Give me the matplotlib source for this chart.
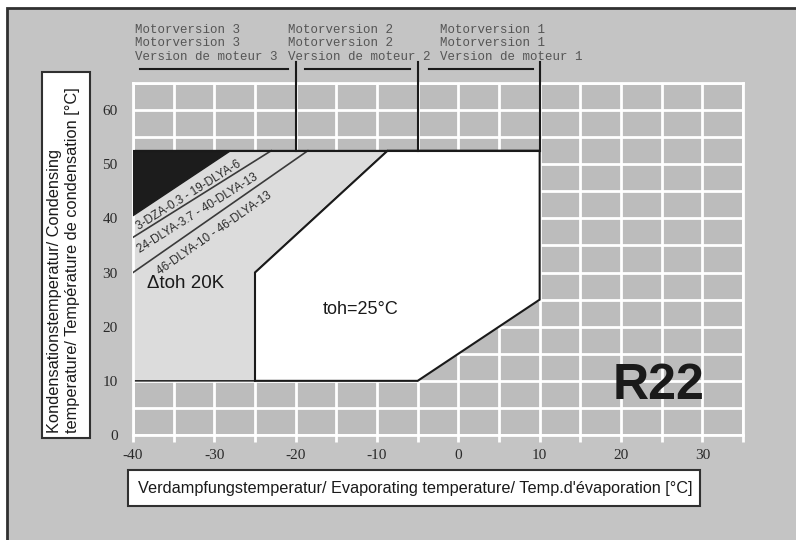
import numpy as np
import matplotlib
matplotlib.use("Agg")
import matplotlib.pyplot as plt
from matplotlib.patches import Polygon, Rectangle

plt.rcParams["axes.unicode_minus"] = False

# ------------------------------------------------------------
# Daten
# ------------------------------------------------------------
x_ticks = [-40, -30, -20, -10, 0, 10, 20, 30]
y_ticks = [0, 10, 20, 30, 40, 50, 60]

# Einsatzbereich Δtoh 20K (hellgrau)
zone_20k_x = [-40, -25, -25, -8.7, -40]
zone_20k_y = [10, 10, 30, 52.5, 52.5]

# Einsatzbereich toh=25°C (weiss)
zone_25_x = [-25, -5, 10, 10, -8.7, -25]
zone_25_y = [10, 10, 25, 52.5, 52.5, 30]

# schwarzes Dreieck oben links
dark_x = [-40, -28, -40]
dark_y = [52.5, 52.5, 40.5]

# Trennlinien der Düsengrössen
line1_x = [-40, -23]
line1_y = [36.5, 52.5]
line2_x = [-40, -18.5]
line2_y = [30, 52.5]

nozzle_labels = ["3-DZA-0.3 - 19-DLYA-6",
                 "24-DLYA-3.7 - 40-DLYA-13",
                 "46-DLYA-10 - 46-DLYA-13"]
nozzle_x = [-33.1, -32.1, -30.0]
nozzle_y = [44.2, 40.9, 37.2]

# Motorversionen
motor_x = [-20, -5, 10]
motor_nr = [3, 2, 1]
motor_text_x = [-39.7, -20.9, -2.3]
bar_x0 = [-39.1, -18.8, -3.6]
bar_x1 = [-21.0, -6.0, 9.2]

# ------------------------------------------------------------
# Figur
# ------------------------------------------------------------
W, H = 796, 540
fig = plt.figure(figsize=(W / 100, H / 100), dpi=100)
fig.patch.set_facecolor("white")

# grauer Hintergrund mit dunklem Rand links/oben
fig.patches.append(Rectangle((7 / W, -0.01), 1.02, 1 - 8 / H + 0.01,
                             transform=fig.transFigure, facecolor="#c4c4c4",
                             edgecolor="#303030", linewidth=2, zorder=-10))

ax = fig.add_axes([133 / W, (H - 435) / H, 610 / W, 352 / H])
ax.set_facecolor("#bcbcbc")
ax.set_xlim(-40, 35)
ax.set_ylim(0, 65)

ax.set_xticks(x_ticks)
ax.set_xticks(np.arange(-35, 36, 10), minor=True)
ax.set_yticks(y_ticks)
ax.set_yticks(np.arange(5, 66, 10), minor=True)
ax.grid(True, which="both", color="white", linewidth=2)
ax.set_axisbelow(True)
for s in ax.spines.values():
    s.set_color("white")
    s.set_linewidth(2)

ax.tick_params(axis="x", which="both", colors="white", length=5, width=2,
               labelcolor="#2a2a2a", pad=5)
ax.tick_params(axis="y", which="both", length=0, labelcolor="#2a2a2a", pad=11)
for lab in ax.get_xticklabels() + ax.get_yticklabels():
    lab.set_fontfamily("Liberation Serif")
    lab.set_fontsize(11)

# Flächen
ax.add_patch(Polygon(np.column_stack([zone_20k_x, zone_20k_y]), closed=True,
                     facecolor="#dcdcdc", edgecolor="#2a2a2a", linewidth=1.2, zorder=2))
ax.add_patch(Polygon(np.column_stack([zone_25_x, zone_25_y]), closed=True,
                     facecolor="white", edgecolor="#1a1a1a", linewidth=1.5, zorder=3))
ax.add_patch(Polygon(np.column_stack([dark_x, dark_y]), closed=True,
                     facecolor="#1c1c1c", edgecolor="#1c1c1c", linewidth=1, zorder=3))
ax.plot(line1_x, line1_y, color="#3a3a3a", linewidth=1.2, zorder=4)
ax.plot(line2_x, line2_y, color="#3a3a3a", linewidth=1.2, zorder=4)
ax.plot([-40, 10], [52.5, 52.5], color="#1a1a1a", linewidth=1.5, zorder=4)


def angle_of(xs, ys):
    p = ax.transData.transform(np.column_stack([xs, ys]))
    return np.degrees(np.arctan2(p[1, 1] - p[0, 1], p[1, 0] - p[0, 0]))


ang1 = angle_of(line1_x, line1_y)
ang2 = angle_of(line2_x, line2_y)
for txt, x, y, a in zip(nozzle_labels, nozzle_x, nozzle_y, [ang1, ang1, ang2]):
    ax.text(x, y, txt, rotation=a, rotation_mode="anchor", ha="center", va="center",
            fontsize=8.5, family="Liberation Sans", color="#2a2a2a", zorder=5)

ax.text(-38.3, 28.0, "\u0394toh 20K", fontsize=13.5, family="Liberation Sans",
        color="#1a1a1a", ha="left", va="center", zorder=5)
ax.text(-12.0, 23.1, "toh=25°C", fontsize=13, family="Liberation Sans",
        color="#1a1a1a", ha="center", va="center", zorder=5)
ax.text(24.6, 9.0, "R22", fontsize=36, fontweight="bold", family="Liberation Sans",
        color="#1a1a1a", ha="center", va="center", zorder=5)

# Motorversionen oben
for mx, nr, tx, b0, b1 in zip(motor_x, motor_nr, motor_text_x, bar_x0, bar_x1):
    ax.plot([mx, mx], [52.5, 68.8], color="#1a1a1a", linewidth=1.5,
            clip_on=False, zorder=4)
    ax.plot([b0, b1], [67.6, 67.6], color="#1a1a1a", linewidth=1.5,
            clip_on=False, zorder=4)
    for k, t in enumerate([f"Motorversion {nr}", f"Motorversion {nr}",
                           f"Version de moteur {nr}"]):
        ax.text(tx, 74.8 - 2.5 * k, t, family="Liberation Mono", fontsize=9,
                color="#555555", ha="left", va="center", clip_on=False)

# Achsenbeschriftungen in Kästen
fig.patches.append(Rectangle((42 / W, (H - 438) / H), 48 / W, 366 / H,
                             transform=fig.transFigure, facecolor="white",
                             edgecolor="#303030", linewidth=1.5, zorder=1))
fig.text(54 / W, (H - 433) / H, "Kondensationstemperatur/ Condensing",
         rotation=90, rotation_mode="anchor", ha="left", va="center",
         fontsize=11.8, family="Liberation Sans", color="#1a1a1a")
fig.text(73 / W, (H - 433) / H, "temperature/ Température de condensation [°C]",
         rotation=90, rotation_mode="anchor", ha="left", va="center",
         fontsize=11.8, family="Liberation Sans", color="#1a1a1a")

fig.patches.append(Rectangle((128 / W, (H - 506) / H), 572 / W, 36 / H,
                             transform=fig.transFigure, facecolor="white",
                             edgecolor="#303030", linewidth=1.5, zorder=1))
fig.text(138 / W, (H - 488) / H,
         "Verdampfungstemperatur/ Evaporating temperature/ Temp.d'évaporation [°C]",
         ha="left", va="center", fontsize=11.7, family="Liberation Sans",
         color="#1a1a1a")

fig.savefig("out.png", dpi=100, facecolor=fig.get_facecolor())
